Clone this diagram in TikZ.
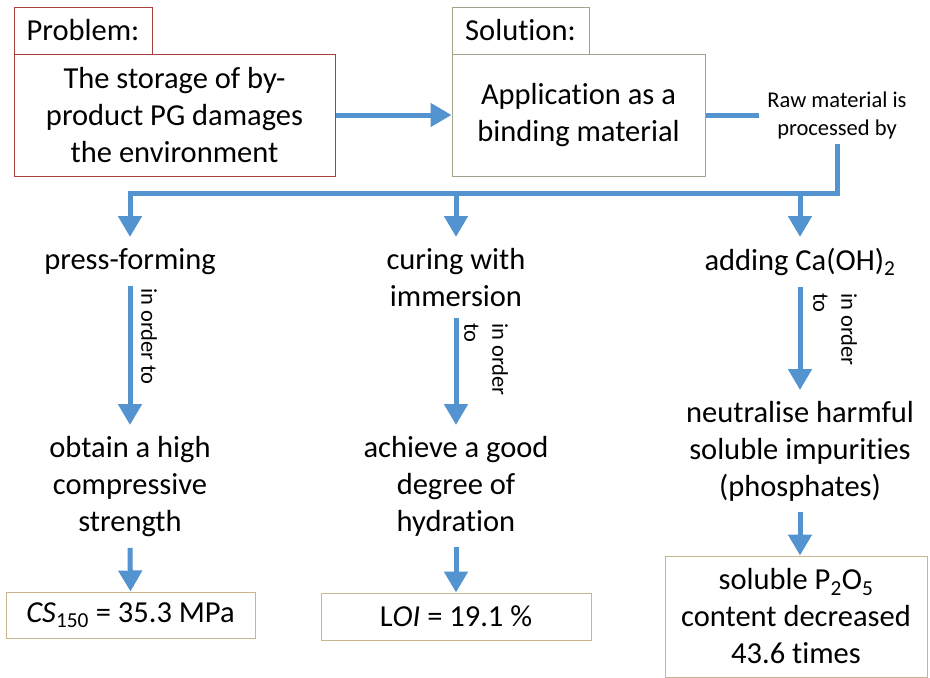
\documentclass[tikz,border=0pt]{standalone}
\usepackage{fontspec}
\setmainfont[Ligatures=NoCommon]{Carlito}
\usetikzlibrary{arrows.meta}
\definecolor{azul}{HTML}{5393D0}
\definecolor{rojo}{HTML}{A8403C}
\definecolor{verde}{HTML}{9AA58A}
\definecolor{ocre}{HTML}{C9B48F}
\tikzset{
	caja/.style={draw, line width=1pt, inner sep=0pt, align=center, font=\fontsize{30.5}{37}\selectfont},
	paso/.style={anchor=north, inner xsep=2pt, inner ysep=11pt, align=center, font=\fontsize{30.5}{37}\selectfont},
	nota/.style={rotate=-90, anchor=west, inner sep=0pt, align=left, font=\fontsize{22.5}{28}\selectfont},
	linea/.style={azul, line width=5pt},
	flecha/.style={azul, line width=5pt, -{Triangle[width=23pt,length=21pt]}}
}
\begin{document}
\begin{tikzpicture}[x=1pt, y=-1pt]
	\useasboundingbox (0,0) rectangle (930,678);
	% Problema
		\node[caja, draw=rojo, minimum width=138pt, minimum height=47pt] (probTit) at (83,30.5) {Problem:};
		\node[caja, draw=rojo, minimum width=321pt, minimum height=122pt] (probCaja) at (174.5,115) {The storage of by-\\product PG damages\\the environment};
	% Solucion
		\node[caja, draw=verde, minimum width=137pt, minimum height=47pt] (solTit) at (520.5,30.5) {Solution:};
		\node[caja, draw=verde, minimum width=253pt, minimum height=122pt] (solCaja) at (578.5,115) {Application as a\\binding material};
		\node[align=center, inner sep=8pt, font=\fontsize{22.5}{28}\selectfont] (proceso) at (837,115) {Raw material is\\processed by};
	
		\draw[flecha] (probCaja.east) -- (solCaja.west);
		\draw[linea] (solCaja.east) -- (proceso.west);
	
	% Ramas
		\coordinate (rama) at (837,193);
		\coordinate (b1) at (130,193);
		\coordinate (b2) at (456,193);
		\coordinate (b3) at (800,193);
		\draw[linea, line cap=rect] (proceso.south) -- (rama) -- (b1);
	
	% Columna izquierda
		\node[paso] (prensa) at (130,237) {press-forming};
		\node[paso] (resist) at (130,425) {obtain a high\\compressive\\strength};
		\node[caja, draw=ocre, minimum width=249pt, minimum height=46pt] (res1) at (130.5,615) {\textit{CS}\textsubscript{150} = 35.3 MPa};
		\node[nota] (nota1) at (149,288) {in order to};
		\draw[flecha] (b1) -- (prensa.north);
		\draw[flecha] (prensa.south) -- (resist.north);
		\draw[flecha] (resist.south) -- (res1.north);
	
	% Columna central
		\node[paso] (curado) at (456,237) {curing with\\immersion};
		\node[paso] (hidrat) at (456,425) {achieve a good\\degree of\\hydration};
		\node[caja, draw=ocre, minimum width=270pt, minimum height=47pt] (res2) at (456,616.5) {L\textit{OI} = 19.1 \%};
		\node[nota] (nota2) at (486,323) {in order\\to};
		\draw[flecha] (b2) -- (curado.north);
		\draw[flecha] (curado.south) -- (hidrat.north);
		\draw[flecha] (hidrat.south) -- (res2.north);
	
	% Columna derecha
		\node[paso] (calcio) at (800,237) {adding Ca(OH)\textsubscript{2}};
		\node[paso] (neutro) at (800,390) {neutralise harmful\\soluble impurities\\(phosphates)};
		\node[caja, draw=ocre, minimum width=262pt, minimum height=121pt] (res3) at (796,616.5) {soluble P\textsubscript{2}O\textsubscript{5}\\content decreased\\43.6 times};
		\node[nota] (nota3) at (835,293) {in order\\to};
		\draw[flecha] (b3) -- (calcio.north);
		\draw[flecha] (calcio.south) -- (neutro.north);
		\draw[flecha] (neutro.south) -- (neutro.south |- res3.north);
\end{tikzpicture}
\end{document}
